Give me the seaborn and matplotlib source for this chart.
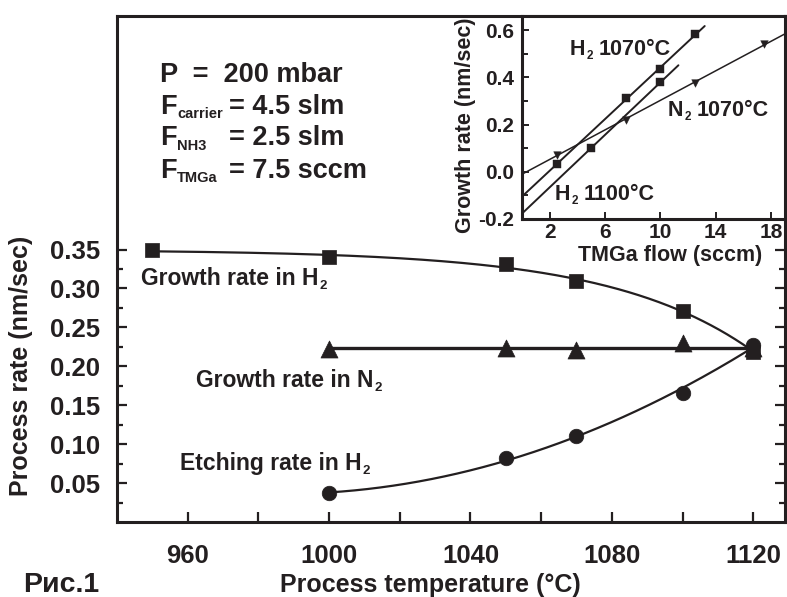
import numpy as np
import pandas as pd
import matplotlib
matplotlib.use("Agg")
import matplotlib.pyplot as plt
import seaborn as sns

# ---------------- data (main chart) ----------------
temp_h2 = [950, 1000, 1050, 1070, 1100, 1120]
growth_h2 = [0.349, 0.340, 0.331, 0.309, 0.271, 0.219]
temp_n2 = [1000, 1050, 1070, 1100, 1120]
growth_n2 = [0.222, 0.223, 0.221, 0.230, 0.223]
temp_etch = [1000, 1050, 1070, 1100, 1120]
etch_h2 = [0.037, 0.082, 0.110, 0.166, 0.228]

x_major = [960, 1000, 1040, 1080, 1120]
x_minor = [980, 1020, 1060, 1100]
y_major = [0.05, 0.10, 0.15, 0.20, 0.25, 0.30, 0.35]
y_minor = [0.025, 0.075, 0.125, 0.175, 0.225, 0.275, 0.325]

# ---------------- data (inset) ----------------
flow_h2_1070 = [2.5, 7.5, 10, 12.5]
rate_h2_1070 = [0.031, 0.311, 0.435, 0.582]
flow_h2_1100 = [5, 10]
rate_h2_1100 = [0.101, 0.379]
flow_n2_1070 = [2.5, 7.5, 12.5, 17.5]
rate_n2_1070 = [0.073, 0.220, 0.375, 0.543]
fit_range_h2_1070 = [0, 13.2]
fit_range_h2_1100 = [0, 11.3]
fit_range_n2_1070 = [0, 19]
inset_x_ticks = [2, 6, 10, 14, 18]
inset_y_ticks = [-0.2, 0.0, 0.2, 0.4, 0.6]
inset_y_minor = [-0.1, 0.1, 0.3, 0.5]

sns.set_theme(style="ticks")
plt.rcParams['font.family'] = ['Liberation Sans', 'DejaVu Sans']
plt.rcParams['font.weight'] = 'bold'
plt.rcParams['axes.labelweight'] = 'bold'
plt.rcParams['axes.unicode_minus'] = False

INK = '#231f20'
W, H = 787, 597
fig = plt.figure(figsize=(W / 100, H / 100), dpi=100)
fig.patch.set_facecolor('white')


def fx(px):
    return px / W


def fy(py):
    return 1 - py / H


def exp_fit(x, y, xs):
    """Least-squares fit y = a + b*exp(c*(x - x_max)), c chosen on a grid."""
    x = np.asarray(x, float)
    y = np.asarray(y, float)
    best = None
    for c in np.linspace(0.002, 0.08, 400):
        A = np.column_stack([np.ones_like(x), np.exp(c * (x - x.max()))])
        coef, *_ = np.linalg.lstsq(A, y, rcond=None)
        r = np.sum((A @ coef - y) ** 2)
        if best is None or r < best[0]:
            best = (r, c, coef)
    _, c, coef = best
    return coef[0] + coef[1] * np.exp(c * (xs - x.max()))


# ---------------- main axes ----------------
ax = fig.add_axes([fx(117), fy(522), fx(785) - fx(117), fy(16) - fy(522)])
ax.set_facecolor('white')
ax.set_xlim(940, 1129)
ax.set_ylim(0, 0.65)

xs1 = np.linspace(min(temp_h2), max(temp_h2), 300)
c1 = pd.DataFrame({'x': xs1, 'y': exp_fit(temp_h2, growth_h2, xs1)})
cn = np.polyfit(temp_n2, growth_n2, 0)
xs2 = np.linspace(min(temp_n2), max(temp_n2), 50)
c2 = pd.DataFrame({'x': xs2, 'y': np.polyval(cn, xs2)})
ce = np.polyfit(temp_etch, etch_h2, 2)
xs3 = np.linspace(min(temp_etch), max(temp_etch), 200)
c3 = pd.DataFrame({'x': xs3, 'y': np.polyval(ce, xs3)})

sns.lineplot(data=c1, x='x', y='y', ax=ax, color=INK, lw=1.6, sort=False)
sns.lineplot(data=c2, x='x', y='y', ax=ax, color=INK, lw=2.4, sort=False)
sns.lineplot(data=c3, x='x', y='y', ax=ax, color=INK, lw=1.6, sort=False)

sns.scatterplot(x=temp_h2, y=growth_h2, ax=ax, marker='s', s=110, color=INK,
                edgecolor=INK, linewidth=0.5, zorder=5)
sns.scatterplot(x=temp_n2, y=growth_n2, ax=ax, marker='^', s=150, color=INK,
                edgecolor=INK, linewidth=0.5, zorder=5)
sns.scatterplot(x=temp_etch, y=etch_h2, ax=ax, marker='o', s=110, color=INK,
                edgecolor=INK, linewidth=0.5, zorder=5)

ax.set_xticks(x_major)
ax.set_xticklabels([str(v) for v in x_major])
ax.set_xticks(x_minor, minor=True)
ax.set_yticks(y_major)
ax.set_yticklabels([f"{v:.2f}" for v in y_major])
ax.set_yticks(y_minor, minor=True)
ax.tick_params(axis='both', which='both', direction='in', width=1.6, color=INK,
               labelcolor=INK, labelsize=18.5)
ax.tick_params(axis='x', which='both', length=7, pad=16)
ax.tick_params(axis='y', which='major', length=7, pad=12, right=True)
ax.tick_params(axis='y', which='minor', length=4.5, right=True)
for sp in ax.spines.values():
    sp.set_linewidth(2.2)
    sp.set_color(INK)
    sp.set_visible(True)

ax.set_xlabel('Process temperature (°C)', fontsize=18, color=INK)
ax.set_ylabel('Process rate (nm/sec)', fontsize=18, color=INK)
ax.xaxis.set_label_coords(fx(430), fy(573), transform=fig.transFigure)
ax.yaxis.set_label_coords(fx(33), fy(366), transform=fig.transFigure)

tkw = dict(transform=fig.transFigure, color=INK, fontweight='bold', va='baseline')


def sub_after(host, t, s, size, dy=0.0):
    return host.annotate(s, xy=(1, 0), xycoords=t, xytext=(0.5, dy),
                         textcoords='offset points', fontsize=size, color=INK,
                         fontweight='bold', va='baseline', ha='left',
                         annotation_clip=False)


# annotation texts on main plot
for px, py, s in ((141, 285, 'Growth rate in H'), (196, 387, 'Growth rate in N'),
                  (180, 470, 'Etching rate in H')):
    t = fig.text(fx(px), fy(py), s, fontsize=16.5, **tkw)
    sub_after(ax, t, '2', 9.5, dy=0.5)

fig.text(fx(160), fy(82), 'P  =  200 mbar', fontsize=19.5, **tkw)
for py, sub, rest in ((113.5, 'carrier', '= 4.5 slm'), (145, 'NH3', '= 2.5 slm'),
                      (177.5, 'TMGa', '= 7.5 sccm')):
    t = fig.text(fx(160), fy(py), 'F', fontsize=19.5, **tkw)
    sub_after(ax, t, sub, 10.5, dy=1.0)
    fig.text(fx(229), fy(py), rest, fontsize=19.5, **tkw)

fig.text(fx(23), fy(592), 'Рис.1', fontsize=20.5, **tkw)

# ---------------- inset ----------------
ax2 = fig.add_axes([fx(522), fy(219), fx(785) - fx(522), fy(16) - fy(219)])
ax2.set_facecolor('white')
ax2.set_xlim(0, 19)
ax2.set_ylim(-0.2, 0.66)


def fit_line(x, y, rng, n=50):
    c = np.polyfit(x, y, 1)
    xs = np.linspace(rng[0], rng[1], n)
    return pd.DataFrame({'x': xs, 'y': np.polyval(c, xs)})


l1 = fit_line(flow_h2_1070, rate_h2_1070, fit_range_h2_1070)
l2 = fit_line(flow_h2_1100, rate_h2_1100, fit_range_h2_1100)
l3 = fit_line(flow_n2_1070, rate_n2_1070, fit_range_n2_1070)
for d, lw in ((l1, 1.4), (l2, 1.4), (l3, 1.1)):
    sns.lineplot(data=d, x='x', y='y', ax=ax2, color=INK, lw=lw)

sns.scatterplot(x=flow_h2_1070, y=rate_h2_1070, ax=ax2, marker='s', s=32,
                color=INK, edgecolor=INK, linewidth=0.3, zorder=5)
sns.scatterplot(x=flow_h2_1100, y=rate_h2_1100, ax=ax2, marker='s', s=32,
                color=INK, edgecolor=INK, linewidth=0.3, zorder=5)
sns.scatterplot(x=flow_n2_1070, y=rate_n2_1070, ax=ax2, marker='v', s=30,
                color=INK, edgecolor=INK, linewidth=0.3, zorder=5)

ax2.set_xticks(inset_x_ticks)
ax2.set_xticklabels([str(v) for v in inset_x_ticks])
ax2.set_yticks(inset_y_ticks)
ax2.set_yticklabels([f"{v:.1f}" for v in inset_y_ticks])
ax2.set_yticks(inset_y_minor, minor=True)
ax2.tick_params(axis='both', which='both', direction='in', width=1.4, color=INK,
                labelcolor=INK, labelsize=15)
ax2.tick_params(axis='both', which='major', length=5)
ax2.tick_params(axis='both', which='minor', length=4)
ax2.tick_params(axis='x', pad=3)
ax2.tick_params(axis='y', pad=6)
for sp in ax2.spines.values():
    sp.set_linewidth(2.2)
    sp.set_color(INK)
    sp.set_visible(True)

ax2.set_xlabel('TMGa flow (sccm)', fontsize=15.5, color=INK)
ax2.set_ylabel('Growth rate (nm/sec)', fontsize=15.5, color=INK)
ax2.xaxis.set_label_coords(fx(670), fy(244.5), transform=fig.transFigure)
ax2.yaxis.set_label_coords(fx(476), fy(125), transform=fig.transFigure)

for px, py, head, rest in ((570, 55, 'H', '1070°C'), (668, 116, 'N', '1070°C'),
                           (555, 200, 'H', '1100°C')):
    t = fig.text(fx(px), fy(py), head, fontsize=15.5, **tkw)
    s2 = sub_after(ax2, t, '2', 8.5, dy=0.5)
    ax2.annotate(rest, xy=(1, 0), xycoords=(s2, t), xytext=(4.5, 0),
                 textcoords='offset points', fontsize=15.5, color=INK,
                 fontweight='bold', va='bottom', ha='left', annotation_clip=False)

fig.savefig('out.png', dpi=100, facecolor='white')
